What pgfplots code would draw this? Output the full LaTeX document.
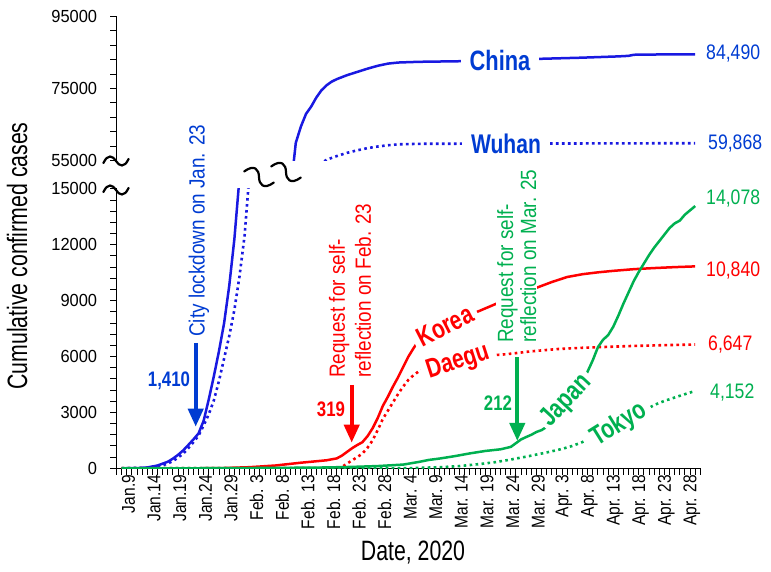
\documentclass[border=0pt]{standalone}
\usepackage{fontspec}
\setmainfont{Liberation Sans}
\usepackage{pgfplots}
\pgfplotsset{compat=1.18}
\usepackage{pgfplotstable}
\usetikzlibrary{arrows.meta}
\newfontfamily\tickf{Liberation Sans}[FakeStretch=0.84]
\newfontfamily\ytickf{Liberation Sans}[FakeStretch=0.94]
\newfontfamily\labf{Liberation Sans}[FakeStretch=0.76]
\newfontfamily\serf{Liberation Sans}[FakeStretch=0.78]
\newfontfamily\annf{Liberation Sans}[FakeStretch=0.86]
\newfontfamily\numf{Liberation Sans}[FakeStretch=0.84]
\newfontfamily\smbf{Liberation Sans}[FakeStretch=0.80]
\definecolor{lineblue}{RGB}{25,25,225}
\definecolor{textblue}{RGB}{0,60,210}
\definecolor{myred}{RGB}{255,0,0}
\definecolor{mygreen}{RGB}{0,176,80}

\pgfplotstableread[row sep=\\]{
d v\\ 0 0\\ 3 10\\ 5 45\\ 7 150\\ 9 350\\ 10 520\\ 11 720\\ 12 960\\ 13 1250\\ 14 1550\\ 15 1870\\ 16 2550\\ 17 3700\\ 18 4950\\ 19 6300\\ 20 7800\\ 21 9800\\ 22 12300\\ 23 15600\\ 25 20000\\ 30 35000\\ 33 47000\\ 34 60000\\ 35 64500\\ 36 68000\\ 37 70000\\ 38 72500\\ 39 74500\\ 40 75900\\ 41 76900\\ 42 77600\\ 44 78700\\ 46 79600\\ 48 80500\\ 50 81300\\ 52 81900\\ 54 82200\\ 58 82400\\ 66 82560\\ 75 82900\\ 81 83200\\ 90 83550\\ 97 83900\\ 99 84050\\ 100 84350\\ 104 84420\\ 112 84490\\
}\china
\pgfplotstableread[row sep=\\]{
d v\\ 0 0\\ 5 30\\ 8 150\\ 10 380\\ 12 780\\ 13 1080\\ 14 1400\\ 15 1750\\ 16 2300\\ 17 2900\\ 18 3650\\ 19 4700\\ 20 5900\\ 21 7100\\ 22 8500\\ 23 10300\\ 24 12500\\ 25 16000\\ 30 30000\\ 35 45000\\ 38 52000\\ 39 54200\\ 40 55300\\ 42 56300\\ 44 57200\\ 46 57900\\ 48 58500\\ 50 58950\\ 52 59300\\ 54 59550\\ 58 59700\\ 70 59750\\ 90 59800\\ 112 59868\\
}\wuhan
\pgfplotstableread[row sep=\\]{
d v\\ 0 0\\ 15 0\\ 20 15\\ 25 60\\ 30 150\\ 35 300\\ 40 430\\ 42 530\\ 43 680\\ 44 880\\ 45 1080\\ 46 1250\\ 47 1400\\ 48 1720\\ 49 2150\\ 50 2700\\ 51 3350\\ 52 3850\\ 53 4400\\ 54 4900\\ 55 5450\\ 56 6000\\ 57 6450\\ 58 6850\\ 60 7300\\ 63 7700\\ 66 8050\\ 69 8350\\ 72 8700\\ 75 9050\\ 78 9380\\ 81 9690\\ 84 10000\\ 87 10270\\ 90 10420\\ 93 10520\\ 96 10600\\ 100 10690\\ 104 10750\\ 108 10800\\ 112 10840\\
}\korea
\pgfplotstableread[row sep=\\]{
d v\\ 0 0\\ 42 0\\ 43 70\\ 44 250\\ 45 430\\ 46 600\\ 47 790\\ 48 1100\\ 49 1500\\ 50 2050\\ 51 2650\\ 52 3100\\ 53 3550\\ 54 4000\\ 55 4400\\ 56 4750\\ 57 5000\\ 58 5200\\ 60 5500\\ 63 5750\\ 66 5900\\ 70 6020\\ 75 6120\\ 80 6280\\ 85 6400\\ 90 6470\\ 95 6520\\ 100 6570\\ 106 6610\\ 112 6647\\
}\daegu
\pgfplotstableread[row sep=\\]{
d v\\ 0 0\\ 10 0\\ 15 2\\ 20 8\\ 25 14\\ 30 22\\ 35 32\\ 40 45\\ 45 75\\ 50 120\\ 55 200\\ 58 340\\ 60 450\\ 62 520\\ 65 650\\ 68 800\\ 71 930\\ 74 1020\\ 76 1150\\ 77 1350\\ 78 1550\\ 79 1680\\ 80 1800\\ 81 1950\\ 82 2050\\ 84 2400\\ 86 2900\\ 88 3600\\ 90 4600\\ 91 5200\\ 92 5800\\ 93 6500\\ 94 6900\\ 95 7150\\ 96 7600\\ 97 8200\\ 98 8850\\ 99 9450\\ 100 10050\\ 101 10550\\ 102 11000\\ 103 11450\\ 104 11850\\ 105 12200\\ 106 12550\\ 107 12900\\ 108 13150\\ 109 13300\\ 110 13620\\ 111 13850\\ 112 14078\\
}\japan
\pgfplotstableread[row sep=\\]{
d v\\ 0 0\\ 55 0\\ 58 20\\ 60 40\\ 63 70\\ 66 120\\ 70 230\\ 73 330\\ 76 470\\ 80 680\\ 83 850\\ 86 1040\\ 88 1200\\ 90 1410\\ 92 1700\\ 94 2000\\ 96 2300\\ 98 2600\\ 100 2850\\ 102 3080\\ 104 3400\\ 106 3620\\ 108 3800\\ 110 3980\\ 112 4152\\
}\tokyo

\newcommand\squig[4]{\draw[black, line width=2.2pt, line cap=round, shift={(#1,#2)}, rotate=#3, scale=#4] (-12,2) .. controls (-8,-7) and (-3,-5) .. (0,0) .. controls (3,5) and (8,7) .. (12,-2);}

\begin{document}
\begin{tikzpicture}
\path[use as bounding box] (0pt,0pt) rectangle (771pt,572pt);
\pgfplotsset{brk/.style={scale only axis, width=583.7pt, xmin=-1, xmax=113,
  axis line style={-, line width=1.3pt, black}, tick align=outside,
  major tick length=6.5pt, minor tick length=6.5pt,
  tick style={black, line width=1pt}, scaled y ticks=false,
  yticklabel style={font=\ytickf\fontsize{17.5}{20}\selectfont, inner sep=0pt, anchor=east, xshift=-12.8pt},
  solidl/.style={line width=2.5pt, line join=round},
  dotl/.style={line width=2.6pt, dash pattern=on 2.6pt off 3.4pt}}}
\begin{axis}[brk, at={(116.6pt,103.7pt)}, anchor=south west, height=279.4pt,
  ymin=0, ymax=15000, axis x line*=bottom, axis y line*=left,
  xtick={0,5,...,110}, minor xtick={-1,0,...,113},
  xticklabels={Jan.9,Jan.14,Jan.19,Jan.24,Jan.29,Feb. 3,Feb. 8,Feb. 13,Feb. 18,Feb. 23,Feb. 28,Mar. 4,Mar. 9,Mar. 14,Mar. 19,Mar. 24,Mar. 29,Apr. 3,Apr. 8,Apr. 13,Apr. 18,Apr. 23,Apr. 28},
  xticklabel style={rotate=90, anchor=east, inner sep=0pt, yshift=-6.9pt, font=\tickf\fontsize{18.5}{20}\selectfont},
  ytick={0,3000,...,15000}, minor ytick={600,1200,...,14400},
  yticklabels={0,3000,6000,9000,12000,15000}]
\addplot[lineblue, solidl] table[x=d,y=v]{\china};
\addplot[lineblue, dotl] table[x=d,y=v]{\wuhan};
\addplot[myred, solidl] table[x=d,y=v]{\korea};
\addplot[myred, dotl] table[x=d,y=v]{\daegu};
\addplot[mygreen, solidl] table[x=d,y=v]{\japan};
\addplot[mygreen, dotl] table[x=d,y=v]{\tokyo};
\end{axis}
\begin{axis}[brk, at={(116.6pt,411.2pt)}, anchor=south west, height=144.5pt,
  ymin=55000, ymax=95000, axis x line=none, axis y line*=left, xtick=\empty,
  ytick={55000,75000,95000}, minor ytick={59000,63000,67000,71000,79000,83000,87000,91000},
  yticklabels={55000,75000,95000}]
\addplot[lineblue, solidl] table[x=d,y=v]{\china};
\addplot[lineblue, dotl] table[x=d,y=v]{\wuhan};
\end{axis}
\begin{scope}[shift={(0pt,572pt)}, x=1pt, y=-1pt]
\squig{116}{161}{0}{1.05}
\squig{116}{190}{0}{1.05}
\squig{259}{177}{-30}{1.3}
\squig{286}{172}{-30}{1.3}
\node[rotate=90, font=\labf\fontsize{28}{30}\selectfont] at (17,256) {Cumulative confirmed cases};
\node[font=\labf\fontsize{28}{30}\selectfont] at (413,553) {Date, 2020};
\node[fill=white, inner xsep=9pt, inner ysep=1pt, text=textblue, font=\serf\bfseries\fontsize{28}{30}\selectfont] at (500,60.5) {China};
\node[fill=white, inner xsep=9pt, inner ysep=1pt, text=textblue, font=\serf\bfseries\fontsize{27}{30}\selectfont] at (506,143.5) {Wuhan};
\node[fill=white, inner xsep=5pt, inner ysep=0pt, rotate=27, text=myred, font=\serf\bfseries\fontsize{27}{30}\selectfont] at (445,326) {Korea};
\node[fill=white, inner xsep=6pt, inner ysep=0pt, rotate=18, text=myred, font=\serf\bfseries\fontsize{27}{30}\selectfont] at (458,362) {Daegu};
\node[fill=white, inner xsep=4pt, inner ysep=0pt, rotate=47, text=mygreen, font=\serf\bfseries\fontsize{27}{30}\selectfont] at (567,401) {Japan};
\node[fill=white, inner xsep=6pt, inner ysep=0pt, rotate=32, text=mygreen, font=\serf\bfseries\fontsize{27}{30}\selectfont] at (619,425) {Tokyo};
\node[anchor=west, inner sep=0pt, text=textblue, font=\numf\fontsize{21}{24}\selectfont] at (706,53.5) {84,490};
\node[anchor=west, inner sep=0pt, text=textblue, font=\numf\fontsize{21}{24}\selectfont] at (708,144) {59,868};
\node[anchor=west, inner sep=0pt, text=mygreen, font=\numf\fontsize{21}{24}\selectfont] at (706,199) {14,078};
\node[anchor=west, inner sep=0pt, text=myred, font=\numf\fontsize{21}{24}\selectfont] at (706,271) {10,840};
\node[anchor=west, inner sep=0pt, text=myred, font=\numf\fontsize{21}{24}\selectfont] at (708,345) {6,647};
\node[anchor=west, inner sep=0pt, text=mygreen, font=\numf\fontsize{21}{24}\selectfont] at (710,393) {4,152};
\node[text=textblue, font=\smbf\bfseries\fontsize{21}{24}\selectfont] at (169,381) {1,410};
\node[text=myred, font=\smbf\bfseries\fontsize{21}{24}\selectfont] at (331,409) {319};
\node[text=mygreen, font=\smbf\bfseries\fontsize{21}{24}\selectfont] at (498,403) {212};
\node[rotate=90, anchor=west, inner sep=0pt, text=textblue, font=\annf\fontsize{22}{26}\selectfont] at (199,337) {City lockdown on Jan. 23};
\node[rotate=90, anchor=west, inner sep=0pt, align=left, text=myred, font=\annf\fontsize{22}{26}\selectfont] at (350,378) {Request for self-\\reflection on Feb. 23};
\node[rotate=90, anchor=west, inner sep=1pt, fill=white, align=left, text=mygreen, font=\annf\fontsize{22}{23}\selectfont] at (516.7,344) {Request for self-\\reflection on Mar. 25};
\draw[-{Triangle[width=15pt,length=18pt]}, line width=4pt, textblue] (195.7,343) -- (195.7,426.7);
\draw[-{Triangle[width=15pt,length=18pt]}, line width=4pt, myred] (351.7,385) -- (351.7,442.7);
\draw[-{Triangle[width=15pt,length=18pt]}, line width=4pt, mygreen] (517.3,357.5) -- (517.3,441);
\end{scope}
\end{tikzpicture}
\end{document}
